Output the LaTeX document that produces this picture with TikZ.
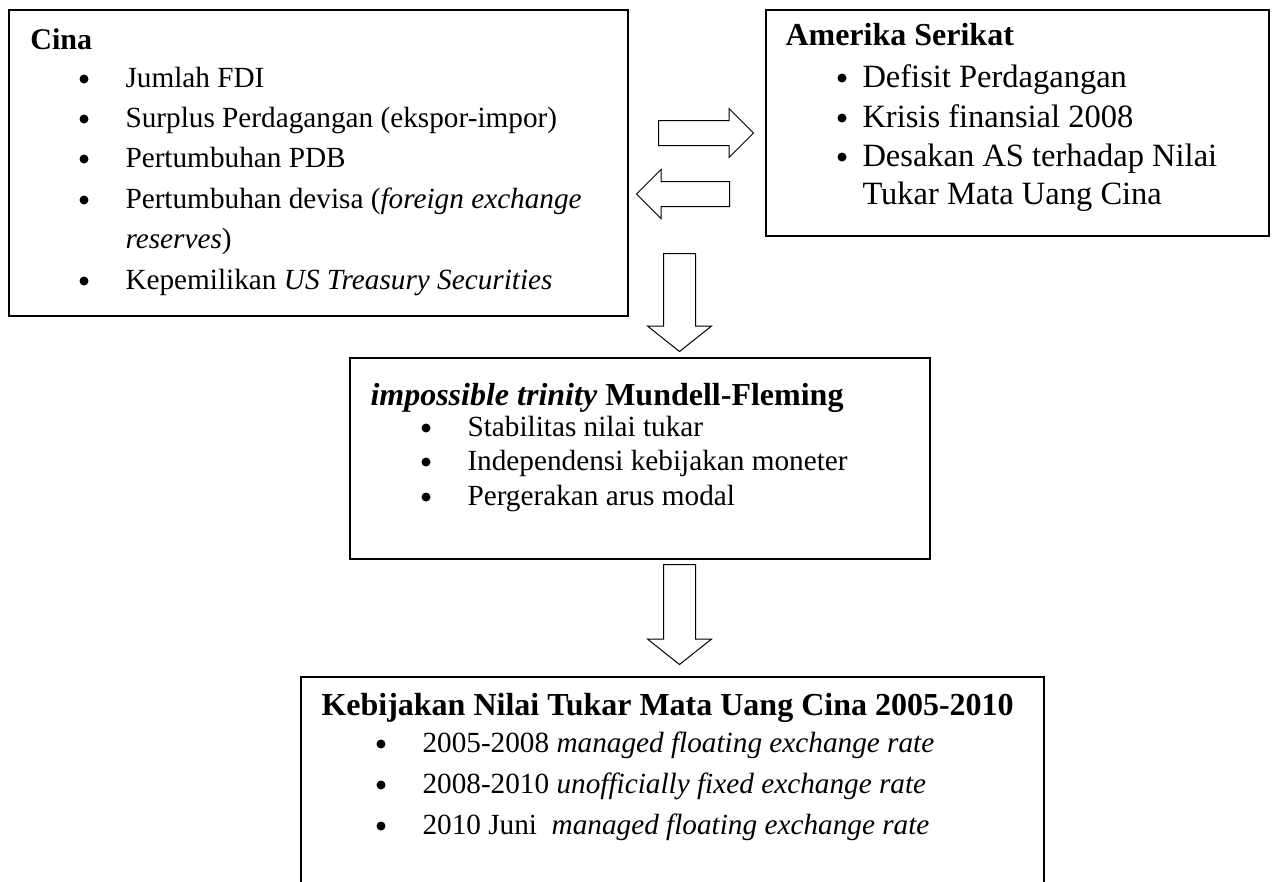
\documentclass[tikz,border=0pt]{standalone}
\usepackage{fontspec}
\setmainfont{Liberation Serif}
\usetikzlibrary{fit,shapes.arrows}

\begin{document}
\begin{tikzpicture}[x=0.4pt,y=-0.4pt,
  box/.style={draw, line width=0.6pt, inner sep=0pt},
  txt/.style={anchor=base west, inner sep=0pt, font=\fontsize{11.7}{14}\selectfont},
  big/.style={txt, font=\fontsize{13}{15}\selectfont},
  hd/.style={txt, font=\fontsize{12.8}{15}\selectfont\bfseries},
  dot/.style={circle, fill, inner sep=0pt, minimum size=3.6pt},
  blk/.style={draw, line width=0.4pt, single arrow, inner xsep=0pt, inner ysep=4.8pt, anchor=tail,
    single arrow head extend=4.8pt, single arrow tip angle=90},
  blkdown/.style={blk, shape border rotate=270, inner xsep=6.2pt, inner ysep=0pt,
    single arrow head extend=6.4pt, single arrow tip angle=103}]
\useasboundingbox (0,0) rectangle (1273,881);
% boxes
\node[box, fit={(9,10) (628,316)}] (cina) {};
\node[box, fit={(766,10) (1269,236)}] (as) {};
\node[box, fit={(350,358) (930,559)}] (mf) {};
\node[box, fit={(301,677) (1044,920)}] (kb) {};
% Cina
\node[hd, font=\fontsize{12}{14}\selectfont\bfseries] (cina-h) at (30,49) {Cina};
\foreach \y/\t [count=\i] in {87/Jumlah FDI, 127/Surplus Perdagangan (ekspor-impor), 167/Pertumbuhan PDB, 208/{Pertumbuhan devisa (\textit{foreign exchange}}, 289/{Kepemilikan \textit{US Treasury Securities}}}{
  \node[dot] (cina-d\i) at (84,\y-8) {};
  \node[txt] (cina-\i) at (125,\y) {\t};
}
\node[txt] (cina-6) at (125,248) {\textit{reserves})};
% Amerika Serikat
\node[hd] (as-h) at (785,45) {Amerika Serikat};
\foreach \y/\t [count=\i] in {87/Defisit Perdagangan, 127/Krisis finansial 2008, 166/Desakan AS terhadap Nilai}{
  \node[dot] (as-d\i) at (842,\y-9) {};
  \node[big] (as-\i) at (862,\y) {\t};
}
\node[big] (as-4) at (862,204) {Tukar Mata Uang Cina};
% Mundell-Fleming
\node[hd] (mf-h) at (370,405) {\textit{impossible trinity} Mundell-Fleming};
\foreach \y/\t [count=\i] in {436/Stabilitas nilai tukar, 470/Independensi kebijakan moneter, 505/Pergerakan arus modal}{
  \node[dot] (mf-d\i) at (426,\y-8) {};
  \node[txt] (mf-\i) at (467,\y) {\t};
}
% kebijakan
\node[hd] (kb-h) at (321,715) {Kebijakan Nilai Tukar Mata Uang Cina 2005-2010};
\foreach \y/\t [count=\i] in {752/{2005-2008 \textit{managed floating exchange rate}}, 793/{2008-2010 \textit{unofficially fixed exchange rate}}, 834/{2010 Juni\ \ \textit{managed floating exchange rate}}}{
  \node[dot] (kb-d\i) at (381,\y-8) {};
  \node[txt] (kb-\i) at (422,\y) {\t};
}
% block arrows
\node[blk, minimum height=38pt] (arR) at (658,133) {};
\node[blk, shape border rotate=180, minimum height=37.2pt] (arL) at (730,194) {};
\node[blkdown, minimum height=39.2pt] (arD1) at (679.5,253) {};
\node[blkdown, minimum height=40pt] (arD2) at (679.5,564) {};
\end{tikzpicture}
\end{document}
